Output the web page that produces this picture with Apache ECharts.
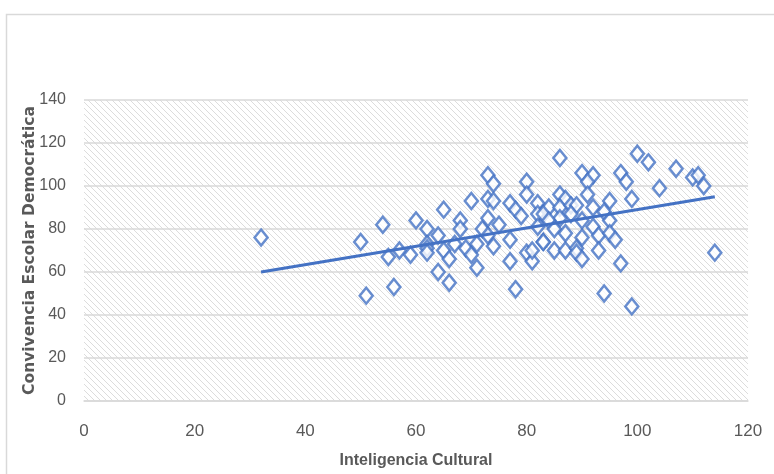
<!DOCTYPE html>
<html>
<head>
<meta charset="utf-8">
<script src="https://cdn.jsdelivr.net/npm/echarts@6/dist/echarts.min.js"></script>
<style>
  html, body { margin: 0; padding: 0; background: #fff; }
  #chart { width: 774px; height: 474px; }
</style>
</head>
<body>
<div id="chart"></div>
<script>
// Inteligencia Cultural (x) vs Convivencia Escolar Democrática (y)
const points = [
  [32, 76], [50, 74], [51, 49], [54, 82], [55, 67], [56, 53], [57, 70], [59, 68], [60, 84],
  [62, 80], [62, 73], [62, 71], [62, 69], [64, 77], [64, 60], [65, 89], [65, 70], [66, 66],
  [66, 55], [67, 73], [68, 84], [68, 80], [69, 71], [70, 68], [70, 93], [71, 73], [71, 62],
  [72, 80], [73, 105], [74, 101], [73, 94], [74, 93], [73, 85], [73, 77], [74, 72], [75, 82],
  [77, 92], [77, 75], [77, 65], [78, 89], [78, 52], [80, 102], [80, 96], [79, 86], [80, 69],
  [81, 65], [82, 92], [82, 87], [82, 81], [83, 74], [81, 70],
  [86, 113], [90, 106], [92, 105], [91, 102], [97, 106], [98, 102], [100, 115], [102, 111],
  [104, 99], [99, 94], [86, 96], [87, 94], [91, 96], [95, 93], [84, 90], [86, 90], [88, 91],
  [89, 91], [92, 90], [94, 88], [83, 87], [88, 87], [90, 84], [86, 85], [84, 84], [95, 84],
  [85, 80], [87, 78], [92, 81], [93, 77], [95, 78], [83, 74], [90, 76], [96, 75], [85, 70],
  [87, 70], [89, 71], [89, 69], [93, 70], [90, 66], [97, 64], [107, 108], [110, 104],
  [111, 105], [112, 100], [114, 69], [94, 50], [99, 44]
]
// linear trend line, ends
const trendX = [32, 114]
const trendY = [60, 95]

const xTitle = "Inteligencia Cultural"
const yTitle = "Convivencia Escolar Democrática"

// diagonal hatch for the plot area
function hatch() {
  const c = document.createElement("canvas")
  c.width = 6
  c.height = 6
  const ctx = c.getContext("2d")
  ctx.fillStyle = "#ffffff"
  ctx.fillRect(0, 0, 6, 6)
  ctx.strokeStyle = "#dcdcdc"
  ctx.lineWidth = 1
  ctx.beginPath()
  ctx.moveTo(-1, -1)
  ctx.lineTo(7, 7)
  ctx.moveTo(-7, -1)
  ctx.lineTo(1, 7)
  ctx.moveTo(5, -1)
  ctx.lineTo(13, 7)
  ctx.stroke()
  return c
}

const labelFont = "'Liberation Sans Narrow', 'Liberation Sans', sans-serif"
const chart = echarts.init(document.getElementById("chart"), null, { renderer: "canvas" })
chart.setOption({
  animation: false,
  backgroundColor: "#ffffff",
  graphic: [{
    type: "rect",
    shape: { x: 6.5, y: 14.5, width: 800, height: 500 },
    style: { fill: "none", stroke: "#d9d9d9", lineWidth: 1.5 },
    silent: true,
  }],
  grid: {
    left: 84,
    right: 26,
    top: 100,
    bottom: 71,
    show: true,
    backgroundColor: { image: hatch(), repeat: "repeat" },
    borderWidth: 0,
  },
  xAxis: {
    type: "value",
    min: 0,
    max: 120,
    interval: 20,
    name: xTitle,
    nameLocation: "middle",
    nameGap: 52,
    nameMoveOverlap: false,
    nameTextStyle: { fontFamily: labelFont, fontWeight: "bold", fontSize: 16, color: "#595959" },
    axisLine: { show: true, lineStyle: { color: "#d9d9d9", width: 1.5 } },
    axisTick: { show: false },
    splitLine: { show: false },
    axisLabel: { fontFamily: labelFont, fontSize: 17, color: "#595959", margin: 22 },
  },
  yAxis: {
    type: "value",
    min: 0,
    max: 140,
    interval: 20,
    name: yTitle,
    nameLocation: "middle",
    nameGap: 46,
    nameMoveOverlap: false,
    nameTextStyle: { fontFamily: "'DejaVu Sans', sans-serif", fontWeight: "bold", fontSize: 15.5, color: "#595959" },
    axisLine: { show: false },
    axisTick: { show: false },
    splitLine: { show: true, lineStyle: { color: "#d9d9d9", width: 1.5 } },
    axisLabel: { fontFamily: labelFont, fontSize: 16, color: "#595959", margin: 18 },
  },
  series: [
    {
      type: "line",
      data: trendX.map((x, i) => [x, trendY[i]]),
      showSymbol: false,
      symbol: "none",
      lineStyle: { color: "#4472C4", width: 3 },
      z: 3,
    },
    {
      type: "scatter",
      data: points,
      symbol: "diamond",
      symbolSize: [13, 16],
      itemStyle: { color: "#ffffff", borderColor: "#4472C4", borderWidth: 2.5 },
      z: 2,
    },
  ],
})
</script>
</body>
</html>
